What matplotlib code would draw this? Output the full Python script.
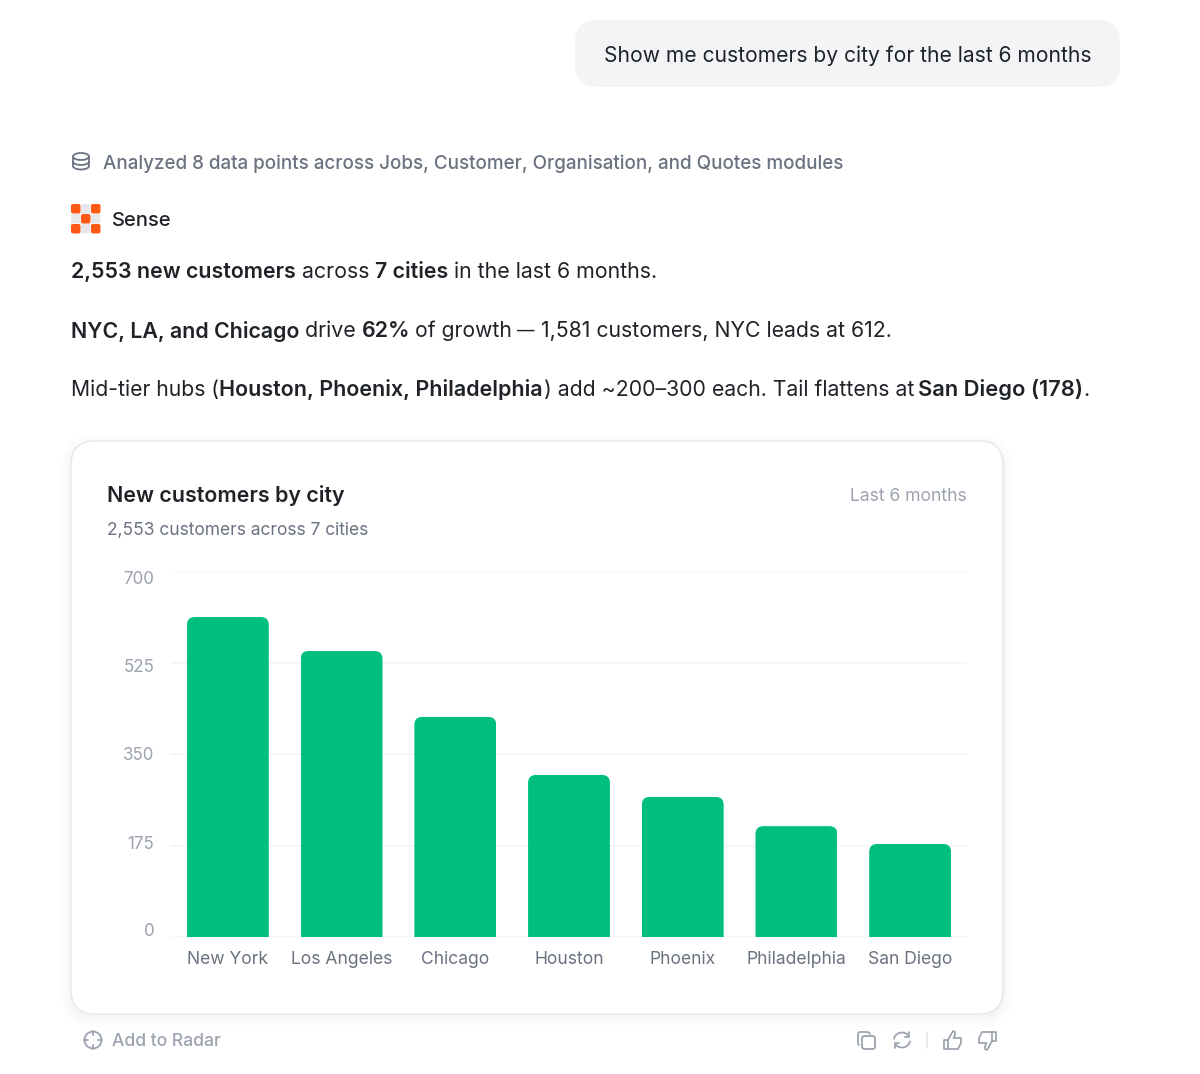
import matplotlib
matplotlib.use("Agg")
import matplotlib.pyplot as plt
from matplotlib.patches import FancyBboxPatch, Circle, Ellipse, Arc
from matplotlib.transforms import ScaledTranslation

cities = ["New York", "Los Angeles", "Chicago", "Houston", "Phoenix", "Philadelphia", "San Diego"]
customers = [612, 547, 421, 310, 268, 212, 178]
y_ticks = [0, 175, 350, 525, 700]

GREEN = "#00bf7d"
DARK = "#1f2328"
GREY = "#6b7280"
LIGHT = "#9ca3af"
ORANGE = "#fc5a14"

plt.rcParams["font.family"] = ["Inter", "DejaVu Sans"]

W, H = 1200, 1074
fig = plt.figure(figsize=(W / 100, H / 100), dpi=100, facecolor="white")

# page layer in pixel coordinates
page = fig.add_axes([0, 0, 1, 1])
page.set_xlim(0, W)
page.set_ylim(H, 0)
page.axis("off")


def px(size):
    return size * 0.72


def box(x0, y0, x1, y1, r, **kw):
    p = FancyBboxPatch((x0 + r, y0 + r), x1 - x0 - 2 * r, y1 - y0 - 2 * r,
                       boxstyle="round,pad=%f,rounding_size=%f" % (r, r), **kw)
    page.add_patch(p)
    return p


def label(x, y, s, size, color=DARK, weight="normal", ha="left"):
    return page.text(x, y, s, fontsize=px(size), color=color, fontweight=weight,
                     ha=ha, va="center_baseline")


def rich(x, y, parts, size):
    # text with bold runs, each run starts where the one before it ended
    r = fig.canvas.get_renderer()
    for s, weight in parts:
        label(x, y, s, size, DARK, weight)
        a = page.text(0, 0, s + "|", fontsize=px(size), fontweight=weight)
        b = page.text(0, 0, "|", fontsize=px(size), fontweight=weight)
        x += a.get_window_extent(r).width - b.get_window_extent(r).width
        a.remove()
        b.remove()


def strokes(lines, color=LIGHT, lw=1.25):
    for xs, ys in lines:
        page.plot(xs, ys, color=color, lw=lw, solid_capstyle="round", solid_joinstyle="round")


# question bubble
box(575, 20, 1120, 87, 22, fc="#f3f4f6", ec="none")
label(604, 54, "Show me customers by city for the last 6 months", 21.05, DARK)

# database icon
page.add_patch(Ellipse((81, 156.5), 16, 7, fc="none", ec=GREY, lw=1.3))
strokes([([73, 73], [156.5, 166]), ([89, 89], [156.5, 166])], GREY, 1.3)
page.add_patch(Arc((81, 161.5), 16, 7, theta1=0, theta2=180, ec=GREY, lw=1.3))
page.add_patch(Arc((81, 166), 16, 7, theta1=0, theta2=180, ec=GREY, lw=1.3))
label(103, 162, "Analyzed 8 data points across Jobs, Customer, Organisation, and Quotes modules",
      18.85, GREY, 500)

# logo
for row in range(3):
    for col in range(3):
        on = (row + col) % 2 == 0
        box(71 + col * 10, 204 + row * 10, 80.5 + col * 10, 213.5 + row * 10, 2,
            fc=ORANGE if on else "#e8e8ea", ec="none")
label(112, 219, "Sense", 20.2, DARK, 500)

# summary text
rich(71, 269.5, [("2,553 new customers", "semibold"), (" across ", "normal"),
                 ("7 cities", "semibold"), (" in the last 6 months.", "normal")], 21.35)
rich(71, 329, [("NYC, LA, and Chicago", "semibold"), (" drive ", "normal"), ("62%", "semibold")], 21.35)
label(415, 329, "of growth", 21.1, DARK)
label(517, 329, "\u2014", 17.5, DARK)
label(541, 329, "1,581 customers, NYC leads at 612.", 21.25, DARK)
label(71, 388, "Mid-tier hubs (", 21.1, DARK)
label(219, 388, "Houston, Phoenix, Philadelphia", 21.45, DARK, "semibold")
label(544, 388, ") add ~200\u2013300 each. Tail flattens at", 21.2, DARK)
label(918, 388, "San Diego (178)", 21.9, DARK, "semibold")
label(1083, 388, ".", 21.35, DARK)

# card with faint shadow
for grow, alpha in [(10, 0.006), (7, 0.008), (4, 0.010), (2, 0.012)]:
    box(71 - grow, 441 - grow + 3, 1003 + grow, 1014 + grow + 3, 24 + grow, fc="black", ec="none", alpha=alpha)
box(71, 441, 1003, 1014, 24, fc="white", ec="#e5e7eb", lw=1.0)
label(107, 493, "New customers by city", 21.4, DARK, "semibold")
label(967, 494.5, "Last 6 months", 17.55, LIGHT, ha="right")
label(107, 528, "2,553 customers across 7 cities", 17.4, GREY)

# chart
ax = fig.add_axes([171 / W, 1 - 937 / H, (967 - 171) / W, (937 - 571) / H], facecolor="none")
ax.set_xlim(-0.5, 6.5)
ax.set_ylim(0, 700)
ax.set_axisbelow(True)
ax.grid(axis="y", color="#f3f4f6", lw=1.1)
ax.grid(axis="x", visible=False)
for side in ax.spines:
    ax.spines[side].set_visible(False)
ax.set_yticks(y_ticks)
ax.set_xticks(range(len(cities)))
ax.set_xticklabels(cities, fontsize=px(17.5), color=GREY)
ax.set_yticklabels([str(v) for v in y_ticks], fontsize=px(17), color=LIGHT)
ax.tick_params(length=0)
ax.tick_params(axis="x", pad=10)
ax.tick_params(axis="y", pad=12)
# y labels sit a few px off their gridlines, more towards the ends of the axis
for t, shift in zip(ax.get_yticklabels(), [7, 3, 0, -3.5, -7]):
    t.set_transform(t.get_transform() + ScaledTranslation(0, shift / 100, fig.dpi_scale_trans))

bars = ax.bar(range(len(cities)), customers, width=0.72, color=GREEN, clip_on=True)
radius_x = 8 / (796 / 7)
aspect = (700 / 366) / (7 / 796)
for bar, value in zip(bars, customers):
    # rounded top: the clip shape runs below zero so only the top corners show
    shape = FancyBboxPatch((bar.get_x() + radius_x, -60), bar.get_width() - 2 * radius_x,
                           value + 60 - radius_x * aspect,
                           boxstyle="round,pad=%f,rounding_size=%f" % (radius_x, radius_x),
                           mutation_aspect=aspect, transform=ax.transData, fc="none", ec="none")
    ax.add_patch(shape)
    shape.set_clip_on(False)
    bar.set_clip_path(shape)

# footer
page.add_patch(Circle((93, 1040), 8.5, fc="none", ec=LIGHT, lw=1.3))
strokes([([93, 93], [1031, 1035]), ([93, 93], [1045, 1049]), ([84, 88], [1040, 1040]), ([98, 102], [1040, 1040])], LIGHT, 1.3)
label(112, 1040, "Add to Radar", 17.5, LIGHT, 500)

# copy
box(862, 1036, 875, 1049, 2.5, fc="white", ec=LIGHT, lw=1.3)
strokes([([859, 858, 858, 859.5], [1045, 1044, 1033.5, 1032]), ([859.5, 868, 870], [1032, 1032, 1034])])
# refresh
page.add_patch(Arc((902, 1040), 16, 15, theta1=185, theta2=330, ec=LIGHT, lw=1.3))
page.add_patch(Arc((902, 1040), 16, 15, theta1=5, theta2=150, ec=LIGHT, lw=1.3))
strokes([([909, 909, 905], [1032, 1037, 1037]), ([895, 895, 899], [1048, 1043, 1043])])
# divider
strokes([([927, 927], [1032, 1048])], "#e5e7eb", 1.2)
# thumbs
strokes([([948, 944, 944, 948, 948, 953, 955, 955, 953.5, 961, 961, 958, 948],
          [1040, 1040, 1049, 1049, 1040, 1031, 1032, 1035, 1038, 1038, 1043, 1049, 1049])])
strokes([([992, 996, 996, 992, 992, 987, 985, 985, 986.5, 979, 979, 982, 992],
          [1041, 1041, 1032, 1032, 1041, 1050, 1049, 1046, 1043, 1043, 1038, 1032, 1032])])

fig.savefig("out.png", dpi=100, facecolor="white")
